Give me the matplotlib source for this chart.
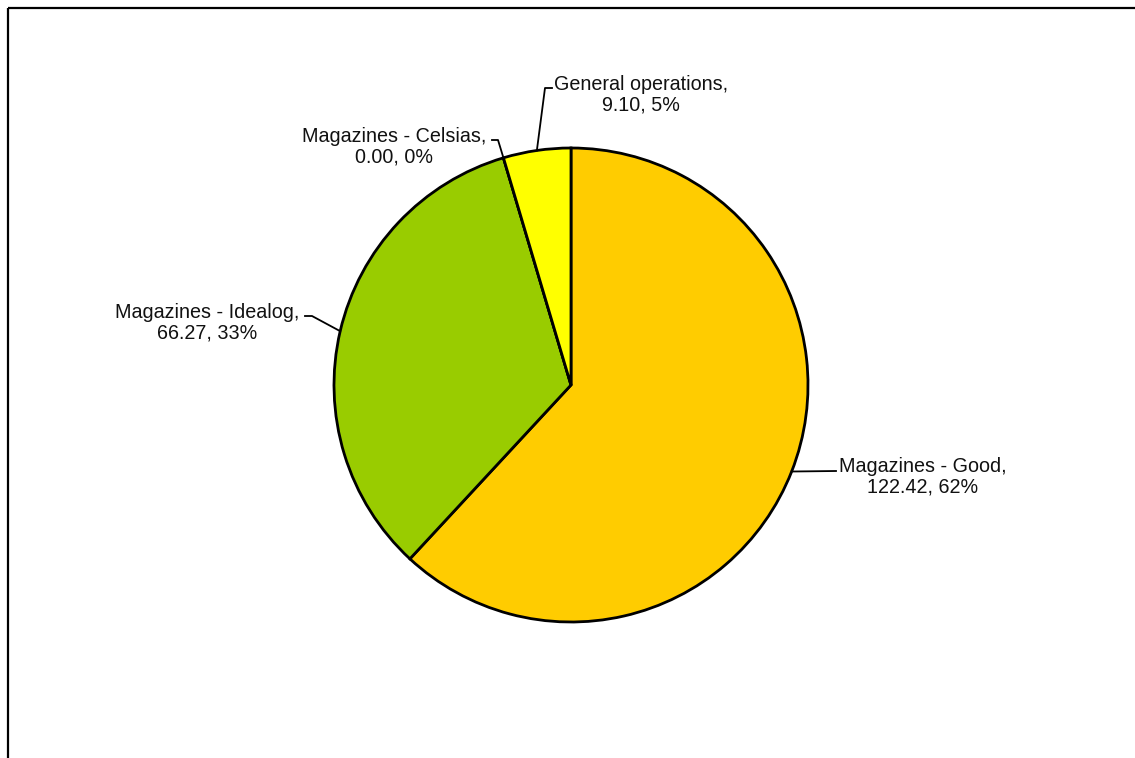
import matplotlib.pyplot as plt
import numpy as np

plt.rcParams['font.family'] = ['Liberation Sans', 'DejaVu Sans']

categorie = ["Magazines - Good", "Magazines - Idealog", "Magazines - Celsias", "General operations"]
valori = [122.42, 66.27, 0.00, 9.10]
percentuali = [62, 33, 0, 5]     # come riportate nel grafico
colori = ["#FFCC00", "#99CC00", "#FFFFFF", "#FFFF00"]

W, H = 1135, 758
fig = plt.figure(figsize=(W / 100, H / 100), dpi=100)
ax = fig.add_axes([0, 0, 1, 1])

cx, cy, r = 571, H - 385, 237    # centro e raggio della torta in pixel
wedges, _ = ax.pie(valori, colors=colori, startangle=90, counterclock=False,
                   center=(cx, cy), radius=r, frame=True,
                   wedgeprops=dict(edgecolor='black', linewidth=2.0))
ax.set_xlim(0, W)
ax.set_ylim(0, H)
ax.set_aspect('equal')
ax.axis('off')

# posizione testo (centro) e gomito della linea guida, in pixel dall'alto
pos_testo = [(923, 477), (207, 323), (394, 147), (641, 95)]
gomito = [(836, 471), (312, 316), (498, 140), (545, 88)]
fine = [(836, 471), (305, 316), (492, 140), (552, 88)]

for w, nome, v, p, pt, gm, fn in zip(wedges, categorie, valori, percentuali, pos_testo, gomito, fine):
    ang = np.deg2rad((w.theta1 + w.theta2) / 2)
    x0 = cx + r * np.cos(ang)
    y0 = cy + r * np.sin(ang)
    ax.plot([x0, gm[0], fn[0]], [y0, H - gm[1], H - fn[1]], color='black', linewidth=1.3)
    ax.text(pt[0], H - pt[1], "%s,\n%.2f, %d%%" % (nome, v, p), ha='center', va='center',
            multialignment='center', fontsize=14.2, linespacing=1.12, color='#111111')

# cornice (solo lati superiore e sinistro visibili)
ax.plot([8, W], [H - 8, H - 8], color='black', linewidth=1.6, solid_capstyle='butt')
ax.plot([8, 8], [H - 8, 0], color='black', linewidth=1.6, solid_capstyle='butt')

plt.savefig("out.png", dpi=100)
